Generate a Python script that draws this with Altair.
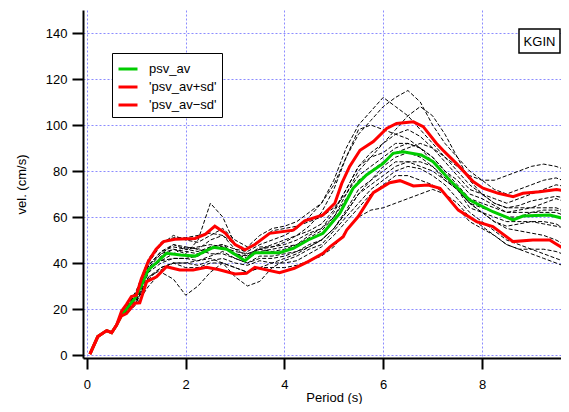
import altair as alt
import pandas as pd

# ---- mean and +/- sd curves ----
av_x = [0.06, 0.22, 0.40, 0.5, 0.6, 0.7, 0.8, 0.97, 1.1, 1.24, 1.4, 1.61, 1.9, 2.19, 2.56, 2.83, 3.05, 3.2, 3.4,
        3.9, 4.18, 4.48, 4.78, 5.12, 5.39, 5.66, 6.0, 6.2, 6.4, 6.77, 7.01, 7.35, 7.75, 8.22, 8.63, 8.83, 9.37, 9.76]
av_y = [0.4, 8, 10.6, 9.7, 13, 17.4, 20, 24.6, 30, 37, 40, 44.2, 43.5, 43, 46.8, 46, 43, 41, 44.5,
        44.5, 46.4, 50, 52.9, 61.6, 72.5, 78.3, 83.3, 87.7, 88.4, 87, 84, 76, 67.4, 62.3, 58.7, 60.4, 60.9, 58.7]

up_x = [0.06, 0.22, 0.40, 0.5, 0.6, 0.7, 0.8, 0.9, 1.0, 1.1, 1.24, 1.4, 1.55, 1.78, 2.19, 2.4, 2.59, 2.8, 3.0,
        3.2, 3.4, 3.7, 4.18, 4.41, 4.78, 5.02, 5.16, 5.32, 5.53, 5.8, 6.07, 6.27, 6.61, 6.81, 7.08, 7.21, 7.48,
        7.82, 8.02, 8.33, 8.63, 8.83, 9.17, 9.51, 9.76]
up_y = [0.4, 8, 10.6, 9.7, 13, 19, 22, 25.4, 26, 33, 40.6, 46, 49.3, 50.3, 50.7, 52.5, 56, 53, 48,
        45.7, 48, 52.9, 54.3, 58.3, 60.9, 66, 74.6, 82, 89, 92.8, 98.5, 100.7, 101.4, 99.3, 92, 89, 83.3,
        75.4, 72.5, 70.3, 68.8, 70.3, 71, 72, 71]

lo_x = [0.06, 0.22, 0.40, 0.5, 0.6, 0.7, 0.8, 0.97, 1.07, 1.21, 1.41, 1.61, 1.88, 2.15, 2.42, 2.66, 3.0, 3.23,
        3.4, 3.9, 4.2, 4.48, 4.78, 4.92, 5.19, 5.26, 5.49, 5.8, 6.13, 6.34, 6.61, 6.91, 7.15, 7.52, 7.89, 8.22,
        8.63, 9.03, 9.37, 9.76]
lo_y = [0.4, 8, 10.6, 9.7, 13, 17, 18, 22.5, 22.7, 31.9, 34, 38.4, 37, 37, 38.1, 37.2, 35.2, 35.5,
        38.1, 35.8, 37.7, 40.6, 44.2, 47, 51.4, 54.3, 60.1, 70.6, 74.9, 75.8, 73.5, 73.9, 72.5, 63, 58, 55.8,
        49.3, 50, 50, 44.9]

# ---- individual records (dashed) ----
rec_x = [0.75, 1.0, 1.25, 1.5, 1.75, 2.0, 2.25, 2.5, 2.75, 3.0, 3.25, 3.5, 3.75, 4.0, 4.25, 4.5, 4.75, 5.0,
         5.25, 5.5, 5.75, 6.0, 6.25, 6.5, 6.75, 7.0, 7.25, 7.5, 7.75, 8.0, 8.25, 8.5, 8.75, 9.0, 9.25, 9.5, 9.75]
rec_01 = [19, 27, 40, 48, 52, 50, 49, 52, 55, 50, 47, 52, 55, 56, 58, 62, 66, 74, 86, 96, 102, 108, 112, 115, 110, 100, 92, 86, 80, 76, 72, 70, 72, 74, 76, 77, 75]
rec_02 = [18, 24, 36, 43, 46, 44, 50, 66, 60, 48, 44, 46, 48, 50, 52, 54, 57, 63, 72, 82, 88, 92, 96, 98, 95, 90, 84, 78, 72, 70, 68, 66, 68, 70, 72, 74, 73]
rec_03 = [17, 22, 30, 36, 33, 26, 30, 36, 40, 38, 36, 38, 40, 42, 44, 47, 50, 55, 62, 70, 74, 78, 82, 84, 84, 82, 77, 72, 66, 62, 58, 55, 54, 53, 52, 50, 47]
rec_04 = [18, 23, 33, 38, 40, 40, 41, 42, 40, 34, 30, 32, 38, 41, 43, 46, 48, 54, 60, 66, 72, 76, 80, 82, 81, 78, 74, 68, 62, 58, 54, 50, 48, 46, 44, 42, 40]
rec_05 = [19, 27, 39, 44, 48, 46, 45, 47, 48, 46, 45, 48, 50, 52, 55, 60, 66, 76, 90, 100, 106, 112, 108, 104, 98, 92, 86, 80, 74, 70, 66, 64, 65, 67, 68, 69, 68]
rec_06 = [18, 24, 34, 38, 40, 38, 38, 40, 40, 38, 36, 38, 38, 38, 39, 41, 43, 47, 54, 60, 63, 64, 66, 68, 70, 72, 70, 66, 60, 56, 52, 48, 46, 44, 42, 40, 38]
rec_07 = [18, 25, 38, 44, 46, 45, 44, 47, 48, 44, 42, 45, 46, 47, 48, 51, 54, 60, 68, 76, 80, 84, 88, 90, 92, 90, 86, 82, 78, 76, 76, 78, 80, 82, 83, 82, 80]
rec_08 = [19, 26, 39, 45, 47, 46, 47, 48, 47, 44, 43, 46, 47, 49, 52, 56, 62, 72, 86, 98, 100, 98, 96, 94, 90, 84, 78, 72, 66, 62, 58, 56, 57, 58, 58, 57, 54]
rec_09 = [18, 26, 37, 41, 44, 47, 46, 44, 44, 42, 40, 42, 42, 43, 45, 48, 50, 55, 62, 70, 76, 82, 86, 88, 86, 82, 76, 72, 66, 64, 62, 60, 60, 62, 62, 62, 60]
rec_10 = [17, 23, 34, 37, 40, 40, 39, 41, 42, 40, 39, 41, 40, 40, 41, 44, 47, 52, 58, 64, 70, 74, 78, 78, 76, 74, 70, 64, 58, 55, 52, 48, 46, 46, 46, 45, 43]
rec_11 = [19, 28, 42, 49, 51, 51, 52, 53, 52, 48, 46, 50, 54, 55, 56, 58, 60, 64, 70, 78, 82, 86, 90, 92, 90, 86, 80, 74, 68, 66, 64, 62, 62, 62, 63, 63, 62]
rec_12 = [18, 25, 37, 41, 42, 42, 43, 46, 47, 45, 44, 46, 45, 46, 48, 52, 55, 60, 70, 80, 86, 92, 98, 104, 108, 104, 96, 86, 76, 70, 66, 64, 64, 64, 66, 68, 66]
rec_13 = [18, 24, 36, 40, 42, 42, 41, 43, 45, 42, 40, 43, 43, 44, 45, 47, 50, 55, 63, 72, 76, 80, 84, 84, 82, 80, 76, 72, 64, 62, 60, 58, 58, 58, 57, 56, 55]
rec_14 = [19, 27, 39, 45, 48, 47, 46, 50, 52, 46, 43, 47, 47, 48, 50, 53, 55, 62, 72, 82, 86, 88, 92, 92, 90, 86, 80, 76, 70, 68, 65, 62, 63, 64, 64, 64, 62]
records = [rec_01, rec_02, rec_03, rec_04, rec_05, rec_06, rec_07, rec_08, rec_09, rec_10, rec_11, rec_12, rec_13, rec_14]

series_names = ["psv_av", "'psv_av+sd'", "'psv_av\u2212sd'"]
series_colors = ["#00cc00", "#ff0000", "#ff0000"]
x_ticks = [0, 2, 4, 6, 8]
y_ticks = [0, 20, 40, 60, 80, 100, 120, 140]
station = "KGIN"

FONT = "Liberation Sans"

rec_rows = []
for i, r in enumerate(records):
    for xv, yv in zip(rec_x, r):
        rec_rows.append({"run": i, "x": xv, "y": yv})
rec_df = pd.DataFrame(rec_rows)

av_df = pd.DataFrame({"x": av_x, "y": av_y, "s": series_names[0]})
sd_df = pd.concat([
    pd.DataFrame({"x": up_x, "y": up_y, "s": series_names[1]}),
    pd.DataFrame({"x": lo_x, "y": lo_y, "s": series_names[2]}),
])

xs = alt.Scale(domain=[-0.08, 9.6], nice=False, zero=False)
ys = alt.Scale(domain=[-1.3, 150], nice=False, zero=False)
cs = alt.Scale(domain=series_names, range=series_colors)

xax = alt.Axis(values=x_ticks, title="Period (s)", titleX=251, titleY=39, titleBaseline="middle",
               labelFlush=False)
yax = alt.Axis(values=y_ticks, title="vel. (cm/s)", titleX=-62, titleY=174, titleBaseline="middle",
               titleAngle=-90, titleAlign="center")

dashed = alt.Chart(rec_df).mark_line(color="black", strokeWidth=1, strokeDash=[4, 2], clip=True).encode(
    x=alt.X("x:Q", scale=xs, axis=xax),
    y=alt.Y("y:Q", scale=ys, axis=yax),
    detail="run:N",
)

green = alt.Chart(av_df).mark_line(strokeWidth=3, clip=True).encode(
    x=alt.X("x:Q", scale=xs),
    y=alt.Y("y:Q", scale=ys),
    color=alt.Color("s:N", scale=cs, title=None,
                    legend=alt.Legend(orient="none", legendX=29, legendY=43)),
)

red = alt.Chart(sd_df).mark_line(strokeWidth=3, clip=True).encode(
    x=alt.X("x:Q", scale=xs),
    y=alt.Y("y:Q", scale=ys),
    color=alt.Color("s:N", scale=cs, title=None),
)

one = pd.DataFrame({"t": [station]})
box = alt.Chart(one).mark_rect(fill="white", stroke="black", strokeWidth=1.5).encode(
    x=alt.value(436), x2=alt.value(477), y=alt.value(19), y2=alt.value(43))
label = alt.Chart(one).mark_text(font=FONT, fontSize=13, color="black", align="center", baseline="middle").encode(
    x=alt.value(456.5), y=alt.value(31.5), text="t:N")

chart = alt.layer(dashed, green, red, box, label).properties(
    width=478, height=348,
    padding={"left": 75, "top": 2, "right": 0, "bottom": 46},
    autosize=alt.AutoSizeParams(type="none"),
).configure_view(stroke=None).configure_axis(
    labelFont=FONT, titleFont=FONT, labelFontSize=13, titleFontSize=13, titleFontWeight="normal",
    labelColor="black", titleColor="black",
    domainColor="black", domainWidth=2, tickColor="black", tickWidth=2, tickSize=11,
    gridColor="#8080ff", gridDash=[2, 2], gridWidth=1, gridOpacity=0.9,
).configure_axisX(labelPadding=9).configure_axisY(labelPadding=5).configure_legend(
    labelFont=FONT, labelFontSize=13, labelColor="black", symbolType="stroke", symbolStrokeWidth=3,
    symbolSize=361, strokeColor="black", fillColor="white", padding=5, rowPadding=0,
    labelOffset=10,
)

chart.save("out.html", embed_options={"renderer": "svg", "actions": False})
